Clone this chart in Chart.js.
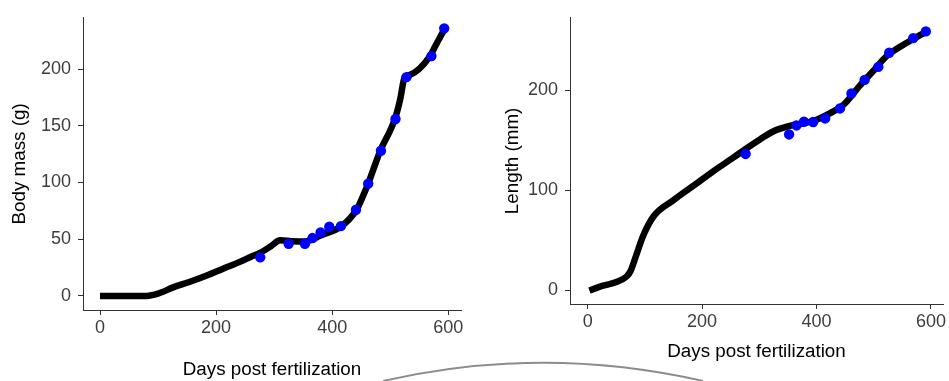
<!DOCTYPE html>
<html>
<head>
<meta charset="utf-8">
<script src="https://cdn.jsdelivr.net/npm/chart.js@4/dist/chart.umd.min.js"></script>
<style>
  html, body { margin: 0; padding: 0; background: #ffffff; }
  #wrap { position: relative; width: 949px; height: 381px; overflow: hidden; background: #fff; }
  #c1 { position: absolute; left: 0; top: 0; }
  #c2 { position: absolute; left: 470px; top: 0; }
  #arc { position: absolute; left: 0; top: 0; }
</style>
</head>
<body>
<div id="wrap">
  <canvas id="c1" width="470" height="381"></canvas>
  <canvas id="c2" width="479" height="381"></canvas>
  <svg id="arc" width="949" height="381"><path d="M 383 381 A 720 720 0 0 1 703 381" fill="none" stroke="#8c8c8c" stroke-width="2"/></svg>
</div>
<script>
// ---- Data ----
const obsDaysMass   = [276, 325, 353, 366, 380, 395, 415, 441, 462, 484, 509, 528, 571, 593];
const obsMass       = [34, 46, 46, 51, 56, 61, 61.5, 76, 99, 128, 156, 193, 211.5, 236];

const fitDaysMass   = [0, 40, 80, 100, 126, 155, 184, 212, 241, 260, 276, 295, 310, 330, 353, 380, 416, 442, 453, 462, 482, 508, 517, 525, 534, 568, 577, 592];
const fitMass       = [0, 0, 0, 2, 7.5, 12.5, 18, 24, 30, 34.5, 38, 44, 49, 48.3, 48, 53.3, 61.5, 76, 88, 99, 127, 156, 173, 193, 195, 211, 219.7, 234];

const obsDaysLength = [276, 352, 365, 378, 394, 415, 441, 461, 484, 508, 527, 569, 591];
const obsLength     = [136.5, 156, 165, 168.7, 168.4, 172, 182, 197, 210.5, 223.5, 237.7, 252.3, 259];

const fitDaysLength = [3, 27, 50, 68, 75, 85, 97, 115, 150, 185, 220, 255, 276, 301, 324, 353, 394, 423, 447, 476, 499, 522, 546, 575, 590];
const fitLength     = [0, 4.8, 8.5, 14, 19.5, 35.5, 54.8, 74, 90.3, 104.8, 119.4, 133, 141.5, 151, 159, 164.5, 169.4, 177, 185.5, 205, 219.4, 234, 243.6, 253.3, 258];

const dayTicks    = [0, 200, 400, 600];
const massTicks   = [0, 50, 100, 150, 200];
const lengthTicks = [0, 100, 200];

const FONT = "'Liberation Sans', Arial, sans-serif";

function pts(xs, ys) { return xs.map((x, i) => ({ x: x, y: ys[i] })); }

function makeChart(id, cfg) {
  const axisColor = '#333333';
  const tickFont = { family: FONT, size: 18 };
  const titleFont = { family: FONT, size: 18.8 };
  return new Chart(document.getElementById(id), {
    type: 'scatter',
    data: {
      datasets: [
        {
          label: 'observed',
          data: pts(cfg.obsX, cfg.obsY),
          backgroundColor: '#0000ff',
          borderWidth: 0,
          pointRadius: 5.2,
          pointHoverRadius: 5.2,
          showLine: false
        },
        {
          label: 'fit',
          data: pts(cfg.fitX, cfg.fitY),
          borderColor: '#000000',
          backgroundColor: '#000000',
          borderWidth: 6.5,
          borderCapStyle: 'butt',
          borderJoinStyle: 'round',
          pointRadius: 0,
          showLine: true,
          cubicInterpolationMode: 'monotone'
        }
      ]
    },
    options: {
      responsive: false,
      animation: false,
      events: [],
      layout: { padding: cfg.padding },
      plugins: { legend: { display: false }, tooltip: { enabled: false } },
      scales: {
        x: {
          type: 'linear',
          min: cfg.xMin, max: cfg.xMax,
          afterBuildTicks: s => { s.ticks = dayTicks.map(v => ({ value: v })); },
          afterFit: s => { s.height = cfg.xHeight; },
          ticks: { color: '#3d3d3d', font: tickFont, padding: 2, maxRotation: 0 },
          grid: { display: true, drawOnChartArea: false, drawTicks: true, tickLength: 5, color: axisColor, lineWidth: 1 },
          border: { display: true, color: axisColor, width: 1 },
          title: { display: true, text: 'Days post fertilization', color: '#000000', font: titleFont, padding: { top: 0, bottom: cfg.xTitlePad } }
        },
        y: {
          type: 'linear',
          min: cfg.yMin, max: cfg.yMax,
          afterBuildTicks: s => { s.ticks = cfg.yTicks.map(v => ({ value: v })); },
          afterFit: s => { s.width = cfg.yWidth; },
          ticks: { color: '#3d3d3d', font: tickFont, padding: 7 },
          grid: { display: true, drawOnChartArea: false, drawTicks: true, tickLength: 5, color: axisColor, lineWidth: 1 },
          border: { display: true, color: axisColor, width: 1 },
          title: { display: true, text: cfg.yTitle, color: '#000000', font: titleFont, padding: { top: cfg.yTitlePad, bottom: 0 } }
        }
      }
    }
  });
}

makeChart('c1', {
  obsX: obsDaysMass, obsY: obsMass, fitX: fitDaysMass, fitY: fitMass,
  xMin: -29.3, xMax: 621.9, yMin: -12.45, yMax: 245.3, yTicks: massTicks,
  padding: { top: 14, right: 9, left: 0, bottom: 0 },
  yWidth: 83, xHeight: 71, xTitlePad: 0, yTitlePad: 9, yTitle: 'Body mass (g)'
});

makeChart('c2', {
  obsX: obsDaysLength, obsY: obsLength, fitX: fitDaysLength, fitY: fitLength,
  xMin: -30.9, xMax: 621, yMin: -13.5, yMax: 272.6, yTicks: lengthTicks,
  padding: { top: 8, right: 6, left: 0, bottom: 0 },
  yWidth: 100, xHeight: 77, xTitlePad: 18, yTitlePad: 32, yTitle: 'Length (mm)'
});
</script>
</body>
</html>
